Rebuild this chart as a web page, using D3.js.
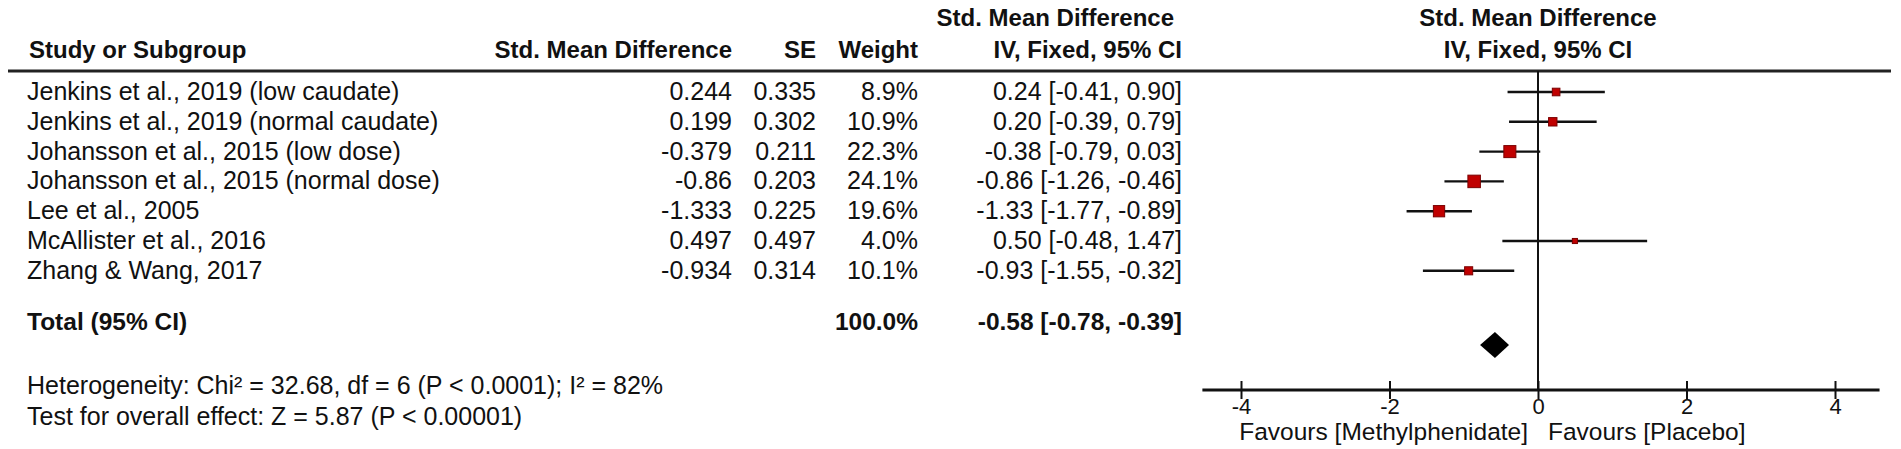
<!DOCTYPE html>
<html>
<head>
<meta charset="utf-8">
<title>Forest plot</title>
<script src="https://cdnjs.cloudflare.com/ajax/libs/d3/7.8.5/d3.min.js"></script>
<style>
    body { margin: 0; background: #fff; }
    #forest-plot { width: 1901px; height: 449px; }
    text { font-family: "Liberation Sans", Arial, sans-serif; fill: #111; }
    .bold { font-weight: bold; }
</style>
</head>
<body>
<div id="forest-plot"></div>
<script>

// study data
let studies = [
    "Jenkins et al., 2019 (low caudate)",
    "Jenkins et al., 2019 (normal caudate)",
    "Johansson et al., 2015 (low dose)",
    "Johansson et al., 2015 (normal dose)",
    "Lee et al., 2005",
    "McAllister et al., 2016",
    "Zhang & Wang, 2017"
];
let smd = [0.244, 0.199, -0.379, -0.86, -1.333, 0.497, -0.934];
let se = [0.335, 0.302, 0.211, 0.203, 0.225, 0.497, 0.314];
let weights = [8.9, 10.9, 22.3, 24.1, 19.6, 4.0, 10.1];
let ciLow = [-0.41, -0.39, -0.79, -1.26, -1.77, -0.48, -1.55];
let ciHigh = [0.90, 0.79, 0.03, -0.46, -0.89, 1.47, -0.32];

// pooled result
let totalEstimate = [-0.58];
let totalLow = [-0.78];
let totalHigh = [-0.39];
let totalWeight = [100.0];

// axis
let tickValues = [-4, -2, 0, 2, 4];
let favourLabels = ["Favours [Methylphenidate]", "Favours [Placebo]"];

let footnotes = [
    "Heterogeneity: Chi\u00B2 = 32.68, df = 6 (P < 0.0001); I\u00B2 = 82%",
    "Test for overall effect: Z = 5.87 (P < 0.00001)"
];


class ForestPlot {

    constructor(parentElement) {
        this.parentElement = parentElement;
        this.initVis();
    }

    initVis() {
        let vis = this;

        vis.width = 1901;
        vis.height = 449;

        vis.svg = d3.select("#" + vis.parentElement).append("svg")
            .attr("width", vis.width)
            .attr("height", vis.height);

        // row layout
        vis.headerLineY = 71;
        vis.firstBaseline = 100;
        vis.rowStep = 29.8;
        vis.totalBaseline = 330;
        vis.diamondY = 345;
        vis.axisY = 390;

        // column anchors
        vis.col = {study: 27, smd: 732, se: 816, weight: 918, ci: 1182};

        // effect scale
        vis.x = d3.scaleLinear()
            .domain([-4, 4])
            .range([1241, 1835]);

        vis.size = d3.scaleSqrt()
            .domain([0, d3.max(weights)])
            .range([0, 12.5]);

        vis.fontSize = 25;
        vis.headSize = 24;

        vis.drawHeader();
        vis.wrangleData();
    }

    drawHeader() {
        let vis = this;

        let header = vis.svg.append("g").attr("class", "header bold")
            .style("font-size", vis.headSize + "px");

        header.append("text").attr("x", 29).attr("y", 58).text("Study or Subgroup");
        header.append("text").attr("x", vis.col.smd).attr("y", 58)
            .attr("text-anchor", "end").text("Std. Mean Difference");
        header.append("text").attr("x", vis.col.se).attr("y", 58)
            .attr("text-anchor", "end").text("SE");
        header.append("text").attr("x", vis.col.weight).attr("y", 58)
            .attr("text-anchor", "end").text("Weight");
        header.append("text").attr("x", 1174).attr("y", 26)
            .attr("text-anchor", "end").text("Std. Mean Difference");
        header.append("text").attr("x", vis.col.ci).attr("y", 58)
            .attr("text-anchor", "end").text("IV, Fixed, 95% CI");

        // plot title, centred on the null line
        header.append("text").attr("x", vis.x(0)).attr("y", 26)
            .attr("text-anchor", "middle").text("Std. Mean Difference");
        header.append("text").attr("x", vis.x(0)).attr("y", 58)
            .attr("text-anchor", "middle").text("IV, Fixed, 95% CI");

        vis.svg.append("line")
            .attr("x1", 8).attr("x2", 1891)
            .attr("y1", vis.headerLineY).attr("y2", vis.headerLineY)
            .attr("stroke", "#222")
            .attr("stroke-width", 3);
    }

    wrangleData() {
        let vis = this;

        vis.displayData = studies.map((name, i) => ({
            name: name,
            smd: smd[i],
            se: se[i],
            weight: weights[i],
            low: ciLow[i],
            high: ciHigh[i],
            baseline: vis.firstBaseline + i * vis.rowStep
        }));

        vis.total = {
            est: totalEstimate[0],
            low: totalLow[0],
            high: totalHigh[0],
            weight: totalWeight[0]
        };

        vis.updateVis();
    }

    updateVis() {
        let vis = this;
        let f2 = d3.format(".2f");
        let ciLabel = (e, l, h) => `${f2(e)} [${f2(l)}, ${f2(h)}]`.replace(/\u2212/g, "-");

        // table rows
        let rows = vis.svg.append("g").attr("class", "rows")
            .style("font-size", vis.fontSize + "px")
            .selectAll(".row")
            .data(vis.displayData)
            .enter()
            .append("g")
            .attr("class", "row")
            .attr("transform", d => `translate(0, ${d.baseline})`);

        rows.append("text").attr("x", vis.col.study).text(d => d.name);
        rows.append("text").attr("x", vis.col.smd).attr("text-anchor", "end").text(d => String(d.smd));
        rows.append("text").attr("x", vis.col.se).attr("text-anchor", "end").text(d => String(d.se));
        rows.append("text").attr("x", vis.col.weight).attr("text-anchor", "end")
            .text(d => d.weight.toFixed(1) + "%");
        rows.append("text").attr("x", vis.col.ci).attr("text-anchor", "end")
            .text(d => ciLabel(d.smd, d.low, d.high));

        // total row
        let total = vis.svg.append("g").attr("class", "total bold")
            .style("font-size", "24.5px")
            .attr("transform", `translate(0, ${vis.totalBaseline})`);
        total.append("text").attr("x", vis.col.study).text("Total (95% CI)");
        total.append("text").attr("x", vis.col.weight).attr("text-anchor", "end")
            .text(vis.total.weight.toFixed(1) + "%");
        total.append("text").attr("x", vis.col.ci).attr("text-anchor", "end")
            .text(ciLabel(vis.total.est, vis.total.low, vis.total.high));

        // footnotes
        vis.svg.append("g").attr("class", "notes")
            .style("font-size", vis.fontSize + "px")
            .selectAll("text")
            .data(footnotes)
            .enter()
            .append("text")
            .attr("x", vis.col.study)
            .attr("y", (d, i) => 394 + i * 31)
            .text(d => d);

        // null line
        vis.svg.append("line")
            .attr("x1", vis.x(0)).attr("x2", vis.x(0))
            .attr("y1", vis.headerLineY).attr("y2", vis.axisY)
            .attr("stroke", "#111")
            .attr("stroke-width", 2);

        // confidence intervals and weighted squares
        let marks = vis.svg.append("g").attr("class", "marks")
            .selectAll(".mark")
            .data(vis.displayData)
            .enter()
            .append("g")
            .attr("class", "mark")
            .attr("transform", d => `translate(0, ${d.baseline - 8})`);

        marks.append("line")
            .attr("x1", d => vis.x(d.low))
            .attr("x2", d => vis.x(d.high))
            .attr("stroke", "#111")
            .attr("stroke-width", 2.4);

        marks.append("rect")
            .attr("x", d => vis.x(d.smd) - vis.size(d.weight) / 2)
            .attr("y", d => -vis.size(d.weight) / 2)
            .attr("width", d => vis.size(d.weight))
            .attr("height", d => vis.size(d.weight))
            .attr("fill", "#c00000")
            .attr("stroke", "#7a0000")
            .attr("stroke-width", 1);

        // pooled diamond
        let dy = vis.diamondY;
        let t = vis.total;
        vis.svg.append("path")
            .attr("d", `M${vis.x(t.low)},${dy} L${vis.x(t.est)},${dy - 13} L${vis.x(t.high)},${dy} L${vis.x(t.est)},${dy + 13} Z`)
            .attr("fill", "#000");

        // bottom axis
        let axis = d3.axisBottom(vis.x)
            .tickValues(tickValues)
            .tickSize(9)
            .tickFormat(d => String(d));

        let axisG = vis.svg.append("g")
            .attr("class", "x-axis")
            .attr("transform", `translate(0, ${vis.axisY})`)
            .call(axis);

        axisG.select(".domain").remove();
        axisG.insert("line", ":first-child")
            .attr("x1", vis.x(-4.52)).attr("x2", vis.x(4.6))
            .attr("stroke", "#111")
            .attr("stroke-width", 3);
        axisG.selectAll(".tick line")
            .attr("y1", -9)
            .attr("stroke", "#111")
            .attr("stroke-width", 2);
        axisG.selectAll(".tick text")
            .attr("y", 24)
            .attr("dy", 0)
            .style("font-family", '"Liberation Sans", Arial, sans-serif')
            .style("font-size", "22px")
            .attr("fill", "#111");

        // favours labels
        vis.svg.append("g")
            .style("font-size", "24.5px")
            .selectAll("text")
            .data(favourLabels)
            .enter()
            .append("text")
            .attr("x", (d, i) => i === 0 ? vis.x(0) - 10 : vis.x(0) + 10)
            .attr("y", 440)
            .attr("text-anchor", (d, i) => i === 0 ? "end" : "start")
            .text(d => d);
    }
}

let forestPlot = new ForestPlot("forest-plot");

</script>
</body>
</html>
